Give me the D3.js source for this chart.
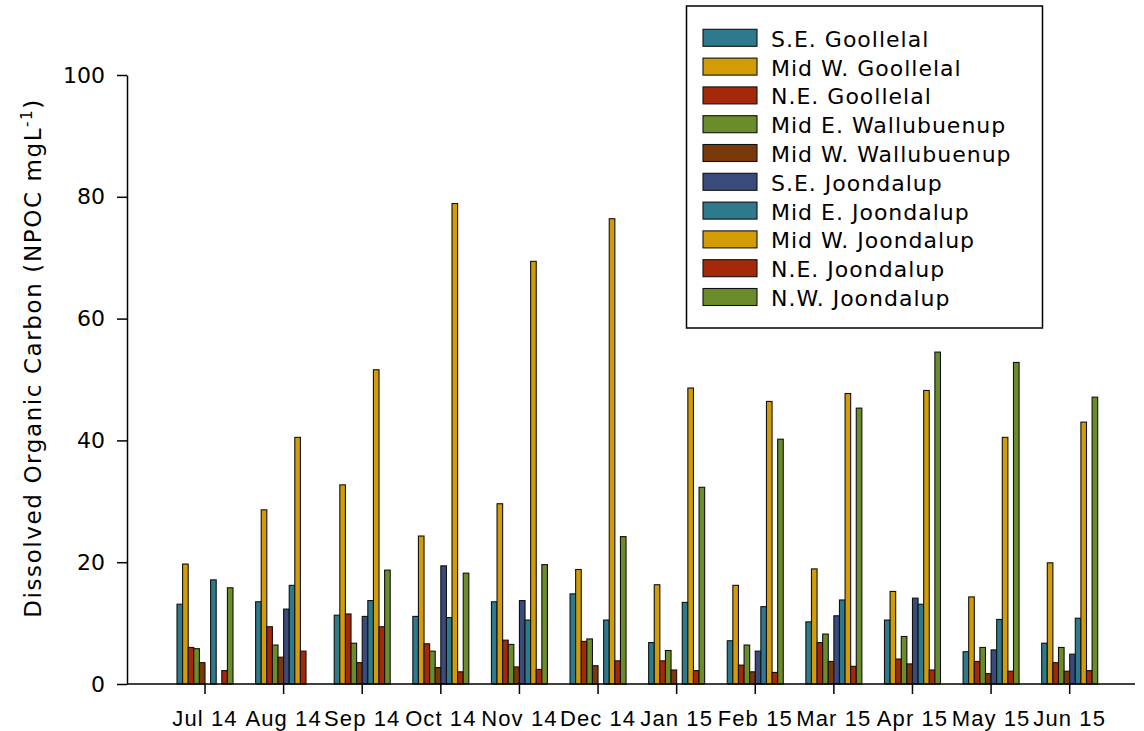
<!DOCTYPE html>
<html>
<head>
<meta charset="utf-8">
<script src="https://cdn.jsdelivr.net/npm/d3@7"></script>
<style>
    body { margin: 0; background: #fff; }
    svg { display: block; }
</style>
</head>
<body>
<div class="chart"></div>
<script>

const months = ["Jul 14","Aug 14","Sep 14","Oct 14","Nov 14","Dec 14","Jan 15","Feb 15","Mar 15","Apr 15","May 15","Jun 15"];

const seriesNames = [
    "S.E. Goollelal","Mid W. Goollelal","N.E. Goollelal","Mid E. Wallubuenup","Mid W. Wallubuenup",
    "S.E. Joondalup","Mid E. Joondalup","Mid W. Joondalup","N.E. Joondalup","N.W. Joondalup"
];

const seriesColors = ["#2c7a8c","#d39b06","#a3290a","#6b8c2a","#7a390a","#3a4a7a","#2c7a8c","#d39b06","#a3290a","#6b8c2a"];

// valores por sitio (null = sin dato)
const seGoollelal     = [13.1,13.5,11.3,11.1,13.5,14.8,6.8,7.1,10.2,10.5,5.3,6.7];
const midWGoollelal   = [19.7,28.6,32.7,24.3,29.6,18.8,16.3,16.2,18.9,15.2,14.3,19.9];
const neGoollelal     = [6.0,9.4,11.5,6.6,7.2,7.0,3.8,3.1,6.8,4.1,3.7,3.5];
const midEWallubuenup = [5.8,6.4,6.7,5.4,6.5,7.4,5.5,6.4,8.2,7.8,6.0,6.0];
const midWWallubuenup = [3.5,4.4,3.5,2.7,2.8,3.0,2.3,2.0,3.7,3.3,1.7,2.1];
const seJoondalup     = [null,12.3,11.1,19.4,13.7,null,null,5.4,11.2,14.1,5.6,4.9];
const midEJoondalup   = [17.1,16.2,13.7,10.9,10.5,10.5,13.4,12.7,13.8,13.1,10.6,10.8];
const midWJoondalup   = [null,40.5,51.6,78.9,69.4,76.4,48.6,46.4,47.7,48.2,40.5,43.0];
const neJoondalup     = [2.2,5.4,9.4,2.0,2.4,3.8,2.2,1.9,2.9,2.3,2.1,2.2];
const nwJoondalup     = [15.8,null,18.7,18.2,19.6,24.2,32.3,40.2,45.3,54.5,52.8,47.1];

const yTicks = [0,20,40,60,80,100];

const seriesValues = [seGoollelal,midWGoollelal,neGoollelal,midEWallubuenup,midWWallubuenup,
    seJoondalup,midEJoondalup,midWJoondalup,neJoondalup,nwJoondalup];

const width = 1144;
const height = 731;

const svg = d3.select(".chart")
    .append("svg")
    .attr("width", width)
    .attr("height", height);

const axisLeftX = 127;
const axisRightX = 1135;

const y = d3.scaleLinear()
    .domain([0,100])
    .range([684,75]);

const x = d3.scaleBand()
    .domain(months)
    .range([165.7,1109])
    .padding(0);

const xInner = d3.scaleBand()
    .domain(seriesNames)
    .range([-28,28]);

// Barras

const bars = [];
months.forEach((m,i) => {
    seriesNames.forEach((s,j) => {
        const v = seriesValues[j][i];
        if(v != null){
            bars.push({month: m, series: s, value: v, color: seriesColors[j]});
        }
    });
});

svg.append("g")
    .selectAll("rect")
    .data(bars)
    .enter()
    .append("rect")
    .attr("x", d => x(d.month) + x.bandwidth()/2 + xInner(d.series))
    .attr("y", d => y(d.value))
    .attr("width", xInner.bandwidth())
    .attr("height", d => y(0) - y(d.value))
    .attr("fill", d => d.color)
    .attr("stroke","#111")
    .attr("stroke-width",1.1);

// Ejes

const yAxis = svg.append("g")
    .attr("transform", `translate(${axisLeftX},0)`)
    .call(d3.axisLeft(y).tickValues(yTicks).tickSize(10).tickPadding(12).tickSizeOuter(0));

yAxis.select(".domain")
    .attr("stroke","#000")
    .attr("stroke-width",1.5);

yAxis.selectAll(".tick line")
    .attr("stroke","#000")
    .attr("stroke-width",1.5);

yAxis.selectAll("text")
    .attr("fill","#000")
    .style("font-family","'DejaVu Sans', Verdana, sans-serif")
    .style("font-size","22px");

const xAxis = svg.append("g")
    .attr("transform", `translate(0,${y(0)})`)
    .call(d3.axisBottom(x).tickSize(10).tickPadding(16).tickSizeOuter(0));

xAxis.select(".domain").remove();

xAxis.append("line")
    .attr("x1", axisLeftX)
    .attr("x2", axisRightX)
    .attr("stroke","#000")
    .attr("stroke-width",1.5);

xAxis.selectAll(".tick line")
    .attr("stroke","#000")
    .attr("stroke-width",1.5);

xAxis.selectAll("text")
    .attr("fill","#000")
    .style("font-family","'Liberation Sans', Arial, sans-serif")
    .style("font-size","22px")
    .style("letter-spacing","1.1px");

// Titulo eje Y

const yLabel = svg.append("text")
    .attr("transform", "translate(41,358) rotate(-90)")
    .attr("text-anchor","middle")
    .style("font-family","'DejaVu Sans', Verdana, sans-serif")
    .style("font-size","23px")
    .style("letter-spacing","1.6px")
    .attr("fill","#000");

yLabel.append("tspan").text("Dissolved Organic Carbon (NPOC mgL");
yLabel.append("tspan").text("-1").attr("baseline-shift","super").style("font-size","15px");
yLabel.append("tspan").text(")");

// Leyenda

const legend = svg.append("g");

legend.append("rect")
    .attr("x",686.5)
    .attr("y",6)
    .attr("width",356)
    .attr("height",322)
    .attr("fill","#fff")
    .attr("stroke","#000")
    .attr("stroke-width",1.5);

const rows = legend.selectAll(".row")
    .data(seriesNames)
    .enter()
    .append("g")
    .attr("transform", (d,i) => `translate(703,${29.3 + i*28.8})`);

rows.append("rect")
    .attr("width",54)
    .attr("height",17)
    .attr("fill", (d,i) => seriesColors[i])
    .attr("stroke","#111")
    .attr("stroke-width",1.1);

rows.append("text")
    .attr("x",68)
    .attr("y",17.4)
    .text(d => d)
    .attr("fill","#000")
    .style("font-family","'DejaVu Sans', Verdana, sans-serif")
    .style("font-size","22px")
    .style("letter-spacing","1px");

</script>
</body>
</html>
